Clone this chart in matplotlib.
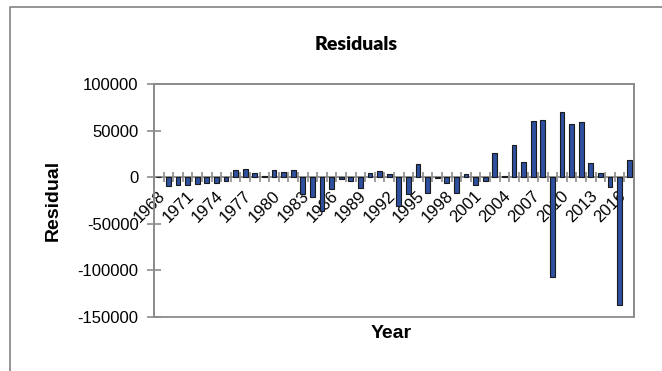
import matplotlib
matplotlib.use('Agg')
import matplotlib.pyplot as plt
from matplotlib.patches import Rectangle
from matplotlib.lines import Line2D
import matplotlib.transforms as mtransforms
import numpy as np

years = list(range(1968, 2018))
residuals = [
    0, -9000, -8000, -8000, -7500, -6000, -6000, -4300, 7200, 8600,
    4300, 1000, 7800, 6000, 7900, -17900, -21500, -36000, -12500, -1400,
    -3900, -11800, 4700, 6800, 2900, -30800, -18300, 14300, -17200, -700,
    -6100, -16500, 3600, -8200, -4300, 26500, 1000, 34400, 16100, 60600,
    61300, -107500, 70300, 57300, 58800, 15000, 5000, -10000, -137000, 18300,
]
ytick_values = [-150000, -100000, -50000, 0, 50000, 100000]
label_years = years[::3]

W, H = 662, 371
fig = plt.figure(figsize=(W / 100, H / 100), dpi=100)
fig.patch.set_facecolor('white')

# outer chart border (cut at right and bottom)
fig.add_artist(Line2D([10 / W, 10 / W, 1.0], [0.0, 1 - 7 / H, 1 - 7 / H],
                      transform=fig.transFigure, color='#8c8c8c', lw=1.3))

ax = fig.add_axes([154 / W, 1 - 317 / H, 480 / W, 233 / H])
x = np.arange(len(years))
ax.bar(x, residuals, width=0.5, color='#2F4F9F', edgecolor='#1a1a1a',
       linewidth=0.8, zorder=3)
ax.set_xlim(-0.5, len(years) - 0.5)
ax.set_ylim(-150000, 100000)

gray = '#8c8c8c'
for s in ['left', 'top', 'right']:
    ax.spines[s].set_color(gray)
    ax.spines[s].set_linewidth(1.3)
ax.spines['bottom'].set_position(('data', 0))
ax.spines['bottom'].set_color(gray)
ax.spines['bottom'].set_linewidth(1.3)
ax.add_patch(Rectangle((0, 0), 1, 1, transform=ax.transAxes, fill=False,
                       edgecolor=gray, lw=1.3, zorder=1, clip_on=False))

ax.set_yticks(ytick_values)
ax.set_yticklabels([str(v) for v in ytick_values], fontsize=12,
                   family='Liberation Sans')
ax.tick_params(axis='y', direction='inout', length=10, width=1.2, color=gray,
               pad=6)

ax.set_xticks(np.arange(-0.5, len(years) + 0.5, 1.0))
ax.set_xticklabels([])
ax.tick_params(axis='x', which='major', direction='inout', length=7,
               width=1.2, color=gray)
ax.set_xticks(x[::3], minor=True)
ax.set_xticklabels([str(y) for y in label_years], minor=True, fontsize=12,
                   family='Liberation Sans')
ax.tick_params(axis='x', which='minor', length=0, pad=12)
offset = mtransforms.ScaledTranslation(4 / 100, 0, fig.dpi_scale_trans)
for lab in ax.get_xticklabels(minor=True):
    lab.set_rotation(45)
    lab.set_ha('right')
    lab.set_va('center')
    lab.set_rotation_mode('anchor')
    lab.set_transform(lab.get_transform() + offset)

fig.text(356 / W, 1 - 45 / H, 'Residuals', ha='center', va='center',
         fontsize=14, fontweight='heavy', family='Lato')
fig.text(391 / W, 1 - 334 / H, 'Year', ha='center', va='center',
         fontsize=14, fontweight='bold', family='Liberation Sans')
fig.text(53 / W, 1 - 200 / H, 'Residual', ha='center', va='center',
         rotation=90, fontsize=14, fontweight='bold', family='Liberation Sans')

fig.savefig('out.png', dpi=100)
